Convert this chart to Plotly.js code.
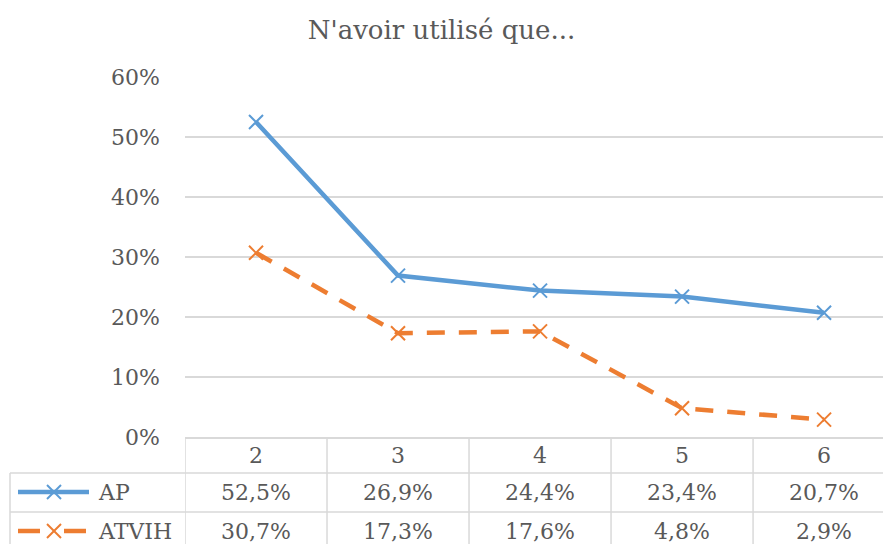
<!DOCTYPE html>
<html>
<head>
<meta charset="utf-8">
<script src="https://cdn.plot.ly/plotly-3.0.1.min.js"></script>
<style>html,body{margin:0;padding:0;background:#fff;}#chart{width:883px;height:544px;}</style>
</head>
<body>
<div id="chart"></div>
<script>
const categories = ['2', '3', '4', '5', '6'];
const seriesNames = ['AP', 'ATVIH'];
const apValues = [0.525, 0.269, 0.244, 0.234, 0.207];
const atvihValues = [0.307, 0.173, 0.176, 0.048, 0.029];
const yTickVals = [0, 0.1, 0.2, 0.3, 0.4, 0.5, 0.6];

const BLUE = '#5b9bd5', ORANGE = '#ed7d31', GRID = '#d9d9d9', TXT = '#595959';
const FONT = 'DejaVu Serif';
const fmt = v => (v * 100).toFixed(1).replace('.', ',') + '%';

const idx = categories.map((c, i) => i);

const traces = [
  {x: idx, y: apValues, name: seriesNames[0], type: 'scatter', mode: 'lines+markers',
   line: {color: BLUE, width: 4.5}, marker: {symbol: 'x-thin', size: 14, line: {color: BLUE, width: 2}},
   cliponaxis: false, showlegend: false},
  {x: idx, y: atvihValues, name: seriesNames[1], type: 'scatter', mode: 'lines+markers',
   line: {color: ORANGE, width: 4.5, dash: '18px,14px'}, marker: {symbol: 'x-thin', size: 14, line: {color: ORANGE, width: 2}},
   cliponaxis: false, showlegend: false}
];

const rowHeader = -18, rowAP = -55, rowATV = -94;
const lineHeaderBottom = -36, lineAPBottom = -75, tableBottom = -120;
const leftPx = 10 - 185;

const shapes = [];
for (let i = 0; i < categories.length; i++) {
  shapes.push({type: 'line', xref: 'x', yref: 'paper', ysizemode: 'pixel', yanchor: 0,
    x0: i - 0.5, x1: i - 0.5, y0: 0, y1: tableBottom, line: {color: GRID, width: 1.5}});
}
shapes.push({type: 'line', xref: 'paper', xsizemode: 'pixel', xanchor: 0, yref: 'paper', ysizemode: 'pixel', yanchor: 0,
  x0: leftPx, x1: leftPx, y0: lineHeaderBottom, y1: tableBottom, line: {color: GRID, width: 1.5}});
[lineHeaderBottom, lineAPBottom].forEach(yy => {
  shapes.push({type: 'line', xref: 'paper', xsizemode: 'pixel', xanchor: 0, yref: 'paper', ysizemode: 'pixel', yanchor: 0,
    x0: leftPx, x1: 700, y0: yy, y1: yy, line: {color: GRID, width: 1.5}});
});
function key(yy, color, dashed) {
  const base = {type: 'line', xref: 'paper', xsizemode: 'pixel', xanchor: 0, yref: 'paper', ysizemode: 'pixel', yanchor: 0};
  if (dashed) {
    shapes.push(Object.assign({}, base, {x0: 18 - 185, x1: 40 - 185, y0: yy, y1: yy, line: {color: color, width: 4.5}}));
    shapes.push(Object.assign({}, base, {x0: 64 - 185, x1: 86 - 185, y0: yy, y1: yy, line: {color: color, width: 4.5}}));
  } else {
    shapes.push(Object.assign({}, base, {x0: 18 - 185, x1: 89 - 185, y0: yy, y1: yy, line: {color: color, width: 4.5}}));
  }
  shapes.push(Object.assign({}, base, {x0: 47 - 185, x1: 61 - 185, y0: yy - 7, y1: yy + 7, line: {color: color, width: 2}}));
  shapes.push(Object.assign({}, base, {x0: 47 - 185, x1: 61 - 185, y0: yy + 7, y1: yy - 7, line: {color: color, width: 2}}));
}
key(rowAP, BLUE, false);
key(rowATV, ORANGE, true);

const annotations = [];
const tf = {family: FONT, size: 22, color: TXT};
categories.forEach((c, i) => {
  annotations.push({xref: 'x', yref: 'paper', x: i, y: 0, yshift: rowHeader, text: c, showarrow: false, font: tf, xanchor: 'center', yanchor: 'middle'});
  annotations.push({xref: 'x', yref: 'paper', x: i, y: 0, yshift: rowAP, text: fmt(apValues[i]), showarrow: false, font: tf, xanchor: 'center', yanchor: 'middle'});
  annotations.push({xref: 'x', yref: 'paper', x: i, y: 0, yshift: rowATV, text: fmt(atvihValues[i]), showarrow: false, font: tf, xanchor: 'center', yanchor: 'middle'});
});
[[seriesNames[0], rowAP], [seriesNames[1], rowATV]].forEach(([n, yy]) => {
  annotations.push({xref: 'paper', yref: 'paper', x: 0, xshift: 96 - 185, y: 0, yshift: yy, text: n, showarrow: false, font: tf, xanchor: 'left', yanchor: 'middle'});
});

const layout = {
  width: 883, height: 544,
  margin: {l: 185, r: 0, t: 77, b: 107, pad: 0},
  paper_bgcolor: '#ffffff', plot_bgcolor: '#ffffff',
  font: {family: FONT, color: TXT},
  title: {text: "N'avoir utilisé que...", font: {family: FONT, size: 26, color: TXT}, x: 0.5, xref: 'container', xanchor: 'center', y: 0.945, yanchor: 'middle'},
  xaxis: {range: [-0.5, 4.415], showgrid: false, zeroline: false, showticklabels: false, ticks: '',
    showline: true, linecolor: GRID, linewidth: 1.5},
  yaxis: {range: [0, 0.6], tickvals: yTickVals, tickformat: '.0%', showgrid: true, gridcolor: GRID, gridwidth: 1.5,
    zeroline: false, showline: false, ticks: '', ticklabelstandoff: 24,
    tickfont: {family: FONT, size: 22, color: TXT}},
  shapes: shapes,
  annotations: annotations,
  showlegend: false
};

Plotly.newPlot('chart', traces, layout, {displayModeBar: false, staticPlot: true});
</script>
</body>
</html>
